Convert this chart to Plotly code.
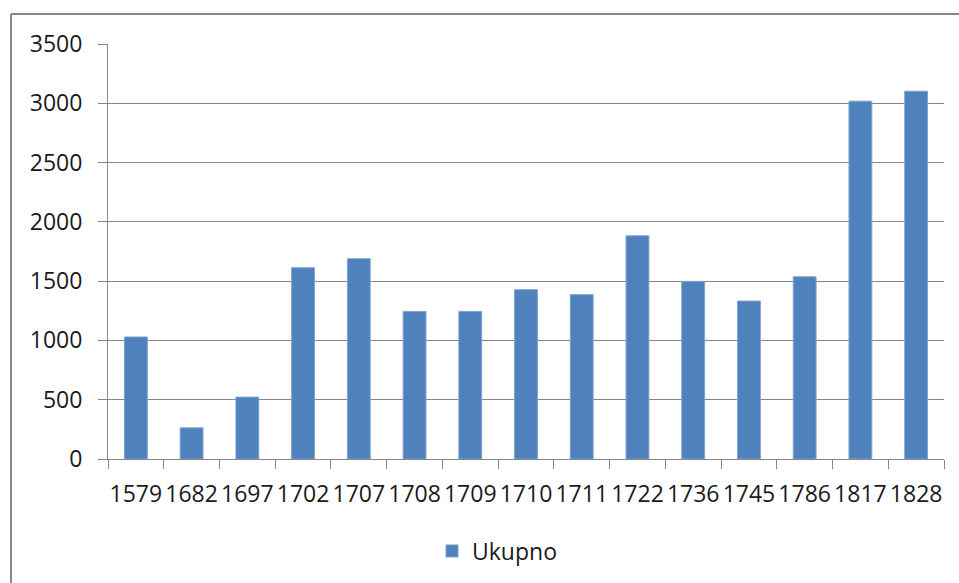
import plotly.graph_objects as go

years = ["1579", "1682", "1697", "1702", "1707", "1708", "1709", "1710",
         "1711", "1722", "1736", "1745", "1786", "1817", "1828"]
ukupno = [1029, 263, 522, 1613, 1689, 1245, 1245, 1428,
          1386, 1882, 1498, 1332, 1537, 3018, 3102]
y_ticks = [0, 500, 1000, 1500, 2000, 2500, 3000, 3500]

W, H = 959, 583
L, R, T, B = 108, 15, 44, 123
pw, ph = W - L - R, H - T - B


def px_x(x):
    return (x - L) / pw


def px_y(y):
    return (H - B - y) / ph


fig = go.Figure()
fig.add_trace(go.Bar(
    x=years,
    y=ukupno,
    name="Ukupno",
    marker_color="#4F81BD",
    marker_line=dict(color="#7FA3D0", width=1),
    showlegend=True,
))

font = dict(family="Open Sans, Noto Sans, sans-serif", size=23, color="#1a1a1a")
fig.update_layout(
    width=W, height=H,
    margin=dict(l=L, r=R, t=T, b=B),
    paper_bgcolor="white",
    plot_bgcolor="white",
    font=font,
    bargap=0.59,
    showlegend=True,
    legend=dict(
        orientation="h",
        x=px_x(497), y=px_y(551),
        xanchor="center", yanchor="middle",
        font=dict(size=23, color="#1a1a1a"),
        itemwidth=30,
    ),
    xaxis=dict(
        type="category",
        showline=True, linecolor="#868686", linewidth=1,
        ticks="outside", ticklen=9, tickcolor="#868686",
        tickson="boundaries",
        showgrid=False,
        tickangle=0,
        ticklabelstandoff=14,
    ),
    yaxis=dict(
        range=[0, 3500],
        tickvals=y_ticks,
        showline=True, linecolor="#868686", linewidth=1,
        ticks="outside", ticklen=9, tickcolor="#868686",
        showgrid=True, gridcolor="#868686", gridwidth=1,
        zeroline=False,
        ticklabelstandoff=11,
    ),
    shapes=[
        dict(type="line", xref="paper", yref="paper",
             x0=px_x(11), x1=px_x(W + 5), y0=px_y(14), y1=px_y(14),
             line=dict(color="#878787", width=2)),
        dict(type="line", xref="paper", yref="paper",
             x0=px_x(11), x1=px_x(11), y0=px_y(14), y1=px_y(H + 5),
             line=dict(color="#878787", width=2)),
    ],
)

fig.write_html("out.html", config={"displayModeBar": False},
               post_script="document.body.style.margin='0';")
